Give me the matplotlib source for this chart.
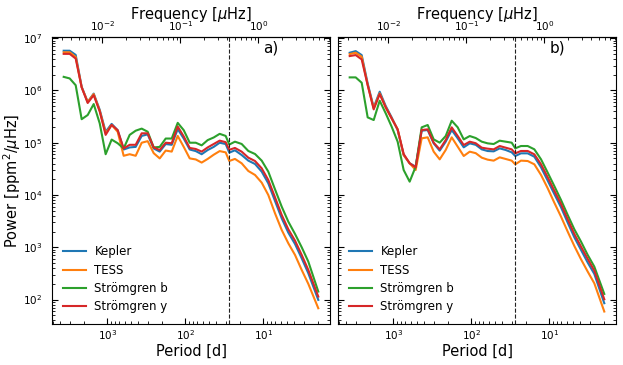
import numpy as np
import matplotlib
matplotlib.use("Agg")
import matplotlib.pyplot as plt

# Frequency grid [muHz]
freq = [0.00320, 0.00382, 0.00456, 0.00544, 0.00650, 0.00776, 0.00927, 0.01104,
        0.01318, 0.01574, 0.01879, 0.02244, 0.02679, 0.03199, 0.03819, 0.04560,
        0.05445, 0.06501, 0.07762, 0.09268, 0.1107, 0.1321, 0.1578, 0.1879,
        0.2244, 0.2679, 0.3199, 0.3819, 0.4246, 0.502, 0.612, 0.745, 0.908,
        1.106, 1.343, 1.637, 1.995, 2.425, 2.955, 3.600, 4.375, 5.875]

# log10 power [ppm^2/muHz], panel a
kepler_a = [6.76, 6.76, 6.68, 6.07, 5.78, 5.94, 5.63, 5.21, 5.36, 5.24, 4.87, 4.91, 4.92, 5.13,
            5.16, 4.89, 4.83, 4.975, 4.96, 5.26, 5.08, 4.87, 4.84, 4.78, 4.86, 4.92, 5.00, 4.975,
            4.81, 4.855, 4.765, 4.657, 4.593, 4.447, 4.223, 3.886, 3.554, 3.28, 3.063, 2.789, 2.503, 1.993]
tess_a = [6.73, 6.73, 6.64, 6.06, 5.78, 5.93, 5.61, 5.18, 5.34, 5.21, 4.75, 4.78, 4.75, 5.00,
          5.03, 4.80, 4.70, 4.85, 4.83, 5.13, 4.92, 4.70, 4.68, 4.62, 4.69, 4.77, 4.84, 4.815,
          4.65, 4.69, 4.606, 4.459, 4.383, 4.236, 4.0, 3.65, 3.331, 3.076, 2.853, 2.566, 2.3, 1.833]
stromb_a = [6.26, 6.23, 6.10, 5.45, 5.53, 5.74, 5.37, 4.78, 5.06, 4.99, 4.89, 5.15, 5.23, 5.27,
            5.21, 4.91, 4.92, 5.08, 5.08, 5.38, 5.24, 5.00, 5.00, 4.95, 5.05, 5.10, 5.17, 5.13,
            4.965, 5.02, 4.976, 4.842, 4.784, 4.657, 4.447, 4.109, 3.777, 3.49, 3.255, 3.0, 2.726, 2.152]
stromy_a = [6.70, 6.70, 6.61, 6.06, 5.76, 5.91, 5.60, 5.15, 5.34, 5.24, 4.89, 4.96, 4.96, 5.18,
            5.18, 4.91, 4.86, 5.00, 4.99, 5.31, 5.12, 4.90, 4.88, 4.83, 4.91, 4.975, 5.04, 5.01,
            4.865, 4.90, 4.829, 4.714, 4.65, 4.51, 4.287, 3.956, 3.618, 3.344, 3.127, 2.853, 2.566, 2.056]

# log10 power, panel b
kepler_b = [6.722, 6.753, 6.677, 6.135, 5.676, 5.976, 5.702, 5.485, 5.243, 4.765, 4.606, 4.542,
            5.23, 5.243, 4.988, 4.848, 5.02, 5.243, 5.084, 4.912, 4.988, 4.96, 4.873, 4.841, 4.835,
            4.892, 4.861, 4.816, 4.746, 4.797, 4.797, 4.733, 4.529, 4.274, 4.02, 3.765, 3.471,
            3.191, 2.949, 2.707, 2.49, 1.929]
tess_b = [6.696, 6.722, 6.645, 6.103, 5.657, 5.944, 5.676, 5.466, 5.256, 4.765, 4.606, 4.478,
          5.084, 5.103, 4.829, 4.682, 4.861, 5.103, 4.924, 4.746, 4.829, 4.80, 4.714, 4.676, 4.657,
          4.72, 4.689, 4.657, 4.586, 4.657, 4.65, 4.587, 4.383, 4.128, 3.854, 3.586, 3.299,
          3.025, 2.77, 2.534, 2.311, 1.77]
stromb_b = [6.25, 6.25, 6.148, 5.485, 5.434, 5.804, 5.562, 5.307, 5.02, 4.478, 4.255, 4.542,
            5.294, 5.339, 5.064, 5.001, 5.128, 5.421, 5.294, 5.064, 5.128, 5.09, 5.02, 4.988, 4.975,
            5.039, 5.02, 5.001, 4.893, 4.937, 4.937, 4.874, 4.682, 4.427, 4.172, 3.905, 3.618,
            3.344, 3.108, 2.853, 2.63, 2.107]
stromy_b = [6.658, 6.677, 6.594, 6.103, 5.638, 5.931, 5.676, 5.466, 5.256, 4.784, 4.606, 4.529,
            5.243, 5.256, 5.001, 4.873, 5.052, 5.294, 5.128, 4.956, 5.02, 4.99, 4.905, 4.886, 4.873,
            4.937, 4.905, 4.873, 4.797, 4.842, 4.842, 4.778, 4.587, 4.338, 4.083, 3.828, 3.535,
            3.255, 3.012, 2.777, 2.554, 2.005]

series_names = ["Kepler", "TESS", "Strömgren b", "Strömgren y"]
series_colors = ["#1f77b4", "#ff7f0e", "#2ca02c", "#d62728"]
panels = [("a)", [kepler_a, tess_a, stromb_a, stromy_a]),
          ("b)", [kepler_b, tess_b, stromb_b, stromy_b])]
dashed_period = 27.4  # days
freq_ticks = [0.01, 0.1, 1.0]
freq_ticklabels = [r"$10^{-2}$", r"$10^{-1}$", r"$10^{0}$"]

DAY_US = 1e6 / 86400.0  # muHz * d


def f2p(f):
    return DAY_US / np.asarray(f, dtype=float)


def p2f(p):
    return DAY_US / np.asarray(p, dtype=float)


plt.rcParams["font.family"] = "DejaVu Sans"
fig = plt.figure(figsize=(6.23, 3.65), dpi=100)
W, H = 623.0, 365.0
rects = [[52 / W, 1 - 324 / H, 278 / W, 286.7 / H],
         [338 / W, 1 - 324 / H, 278 / W, 286.7 / H]]

period = f2p(freq)
for i, (lab, data) in enumerate(panels):
    ax = fig.add_axes(rects[i])
    for vals, name, col in zip(data, series_names, series_colors):
        ax.plot(period, 10 ** np.asarray(vals), color=col, lw=1.5, label=name)
    ax.axvline(dashed_period, color="#222222", ls="--", lw=0.8)
    ax.set_xscale("log")
    ax.set_yscale("log")
    ax.set_xlim(5108, 1.394)
    ax.set_ylim(34, 1.04e7)
    ax.tick_params(which="both", direction="in", right=True, top=False, labelsize=7.5)
    ax.tick_params(axis="x", pad=3)
    ax.tick_params(axis="y", pad=7)
    ax.tick_params(which="major", length=4)
    ax.tick_params(which="minor", length=2)
    ax.set_xlabel("Period [d]", fontsize=10.5, labelpad=1)
    if i == 0:
        ax.set_ylabel(r"Power [ppm$^2$/$\mu$Hz]", fontsize=10.5)
        ax.yaxis.set_label_coords(-0.104, 0.5)
    else:
        ax.tick_params(labelleft=False)
    ax.legend(loc="lower left", frameon=False, fontsize=8.5, handlelength=2.0,
              handletextpad=0.7, borderaxespad=0.5, labelspacing=0.45)
    ax.text(0.76, 0.99, lab, transform=ax.transAxes, fontsize=11, va="top", ha="left")
    sec = ax.secondary_xaxis("top", functions=(p2f, f2p))
    sec.set_xticks(freq_ticks, freq_ticklabels)
    sec.tick_params(which="both", direction="in", labelsize=7.5, pad=3)
    sec.tick_params(which="major", length=4)
    sec.tick_params(which="minor", length=2)
    sec.set_xlabel(r"Frequency [$\mu$Hz]", fontsize=10.5, labelpad=0.5)

fig.savefig("out.png", dpi=100)
